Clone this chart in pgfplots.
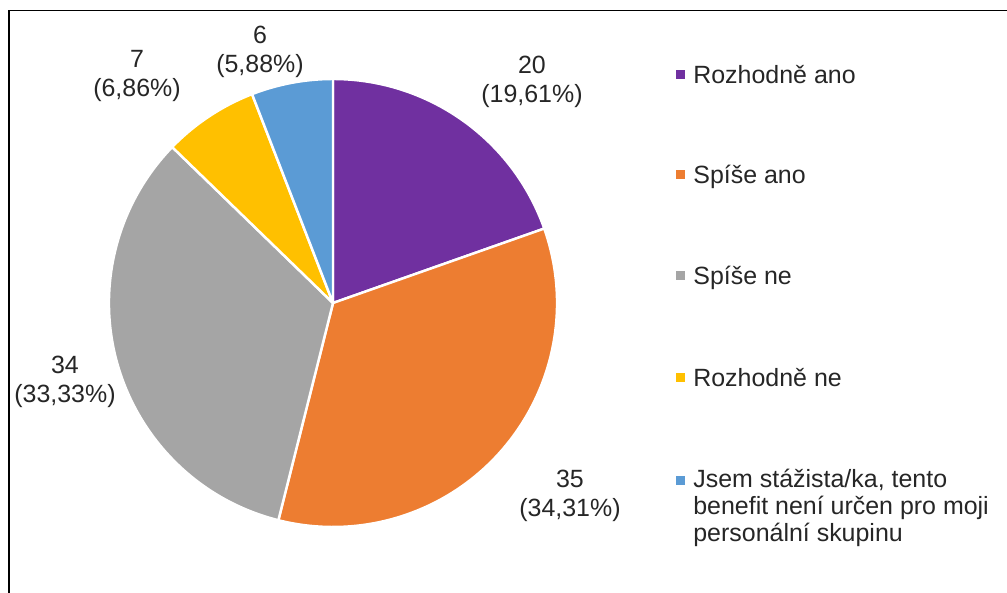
\documentclass[border=0pt]{standalone}
\usepackage{pgfplots}
\usepackage{pgfplotstable}
\pgfplotsset{compat=1.18}
\usepackage{fontspec}
\setmainfont{Liberation Sans}
\usepackage{etoolbox}

\definecolor{cA}{HTML}{7030A0}
\definecolor{cB}{HTML}{ED7D31}
\definecolor{cC}{HTML}{A5A5A5}
\definecolor{cD}{HTML}{FFC000}
\definecolor{cE}{HTML}{5B9BD5}

% value, slice colour, data label centre (cm), legend key height (cm)
\pgfplotstableread{
value col lx    ly    ky
20    cA  10.64 10.22 10.36
35    cB  11.40 1.94  8.36
34    cC  1.30  4.22  6.34
7     cD  2.74  10.34 4.30
6     cE  5.20  10.82 2.24
}\piedata

\def\cx{6.66}\def\cy{5.80}\def\R{4.48}
\newcommand\lblfont{\fontsize{14.2pt}{16.6pt}\selectfont}
\newcommand\legfont{\fontsize{14.2pt}{15.4pt}\selectfont}

% build slices, labels and legend keys from the table
\pgfplotstablegetrowsof{\piedata}\pgfmathtruncatemacro\nlast{\pgfplotsretval-1}
\def\total{0}
\pgfplotsforeachungrouped \i in {0,...,\nlast}{%
  \pgfplotstablegetelem{\i}{value}\of\piedata
  \pgfmathsetmacro\total{\total+\pgfplotsretval}}
\def\cum{0}
\def\pieslices{}
\def\pielabels{}
\def\piekeys{}
\pgfplotsforeachungrouped \i in {0,...,\nlast}{%
  \pgfplotstablegetelem{\i}{value}\of\piedata\let\sv\pgfplotsretval
  \pgfplotstablegetelem{\i}{col}\of\piedata\let\sc\pgfplotsretval
  \pgfplotstablegetelem{\i}{lx}\of\piedata\let\lx\pgfplotsretval
  \pgfplotstablegetelem{\i}{ly}\of\piedata\let\ly\pgfplotsretval
  \pgfplotstablegetelem{\i}{ky}\of\piedata\let\ky\pgfplotsretval
  \pgfmathsetmacro\sa{90-360*(\cum/\total)}%
  \pgfmathsetmacro\cum{\cum+\sv}%
  \pgfmathsetmacro\ea{90-360*(\cum/\total)}%
  \pgfmathsetmacro\pc{100*(\sv/\total)}%
  \pgfmathsetmacro\kb{\ky-0.09}\pgfmathsetmacro\kt{\ky+0.09}%
  \xappto\pieslices{\noexpand\filldraw[fill=\sc, draw=white, line width=1.4pt, line join=round]
    (axis cs:\cx,\cy) -- ++(\sa:\R cm) arc[start angle=\sa, end angle=\ea, radius=\R cm] -- cycle;}%
  \xappto\pielabels{\noexpand\node[align=center, inner sep=0pt, font=\noexpand\lblfont, text=black!85]
    at (axis cs:\lx,\ly) {\sv\noexpand\\(\noexpand\pgfmathprintnumber[fixed, precision=2, fixed zerofill, use comma, assume math mode=true]{\pc}\noexpand\%)};}%
  \xappto\piekeys{\noexpand\fill[\sc] (axis cs:13.52,\kb) rectangle (axis cs:13.70,\kt);}%
}

\begin{document}
\begin{tikzpicture}
\begin{axis}[
  x=1cm, y=1cm,
  xmin=0, xmax=20.14, ymin=0, ymax=11.86,
  hide axis, clip=false,
]
  \pieslices
  \pielabels
  \piekeys
  \begin{scope}[every node/.style={inner sep=0pt, font=\legfont, text=black!85}]
    \node[anchor=base west] at (axis cs:13.86,10.19) {Rozhodně ano};
    \node[anchor=base west] at (axis cs:13.86,8.19) {Spíše ano};
    \node[anchor=base west] at (axis cs:13.86,6.17) {Spíše ne};
    \node[anchor=base west] at (axis cs:13.86,4.13) {Rozhodně ne};
    \node[anchor=west, align=left] at (axis cs:13.86,1.70)
      {Jsem stážista/ka, tento\\benefit není určen pro moji\\personální skupinu};
  \end{scope}
  % chart frame (cut by the image edges)
  \draw[line width=1.1pt] (axis cs:0.18,0) -- (axis cs:0.18,11.65) -- (axis cs:20.14,11.65);
\end{axis}
\pgfresetboundingbox
\path (current axis.south west) rectangle (current axis.north east);
\end{tikzpicture}
\end{document}
